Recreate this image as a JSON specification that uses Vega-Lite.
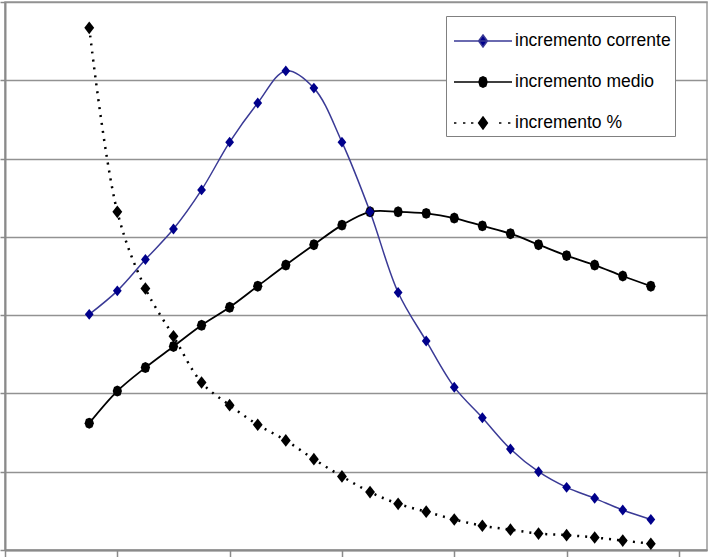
{
  "$schema": "https://vega.github.io/schema/vega-lite/v6.json",
  "width": 702,
  "height": 548,
  "autosize": "none",
  "padding": {"left": 5, "top": 2, "right": 2, "bottom": 7},
  "background": "white",
  "data": {
    "values": [
      {"i": 1, "serie": "incremento corrente", "v": 30.1},
      {"i": 2, "serie": "incremento corrente", "v": 33.1},
      {"i": 3, "serie": "incremento corrente", "v": 37.1},
      {"i": 4, "serie": "incremento corrente", "v": 41.0},
      {"i": 5, "serie": "incremento corrente", "v": 46.0},
      {"i": 6, "serie": "incremento corrente", "v": 52.1},
      {"i": 7, "serie": "incremento corrente", "v": 57.1},
      {"i": 8, "serie": "incremento corrente", "v": 61.2},
      {"i": 9, "serie": "incremento corrente", "v": 59.0},
      {"i": 10, "serie": "incremento corrente", "v": 52.1},
      {"i": 11, "serie": "incremento corrente", "v": 43.2},
      {"i": 12, "serie": "incremento corrente", "v": 32.9},
      {"i": 13, "serie": "incremento corrente", "v": 26.7},
      {"i": 14, "serie": "incremento corrente", "v": 20.8},
      {"i": 15, "serie": "incremento corrente", "v": 16.9},
      {"i": 16, "serie": "incremento corrente", "v": 12.9},
      {"i": 17, "serie": "incremento corrente", "v": 10.0},
      {"i": 18, "serie": "incremento corrente", "v": 8.0},
      {"i": 19, "serie": "incremento corrente", "v": 6.6},
      {"i": 20, "serie": "incremento corrente", "v": 5.1},
      {"i": 21, "serie": "incremento corrente", "v": 3.9},
      {"i": 1, "serie": "incremento medio", "v": 16.2},
      {"i": 2, "serie": "incremento medio", "v": 20.3},
      {"i": 3, "serie": "incremento medio", "v": 23.3},
      {"i": 4, "serie": "incremento medio", "v": 26.0},
      {"i": 5, "serie": "incremento medio", "v": 28.7},
      {"i": 6, "serie": "incremento medio", "v": 31.0},
      {"i": 7, "serie": "incremento medio", "v": 33.7},
      {"i": 8, "serie": "incremento medio", "v": 36.4},
      {"i": 9, "serie": "incremento medio", "v": 39.0},
      {"i": 10, "serie": "incremento medio", "v": 41.5},
      {"i": 11, "serie": "incremento medio", "v": 43.2},
      {"i": 12, "serie": "incremento medio", "v": 43.2},
      {"i": 13, "serie": "incremento medio", "v": 43.0},
      {"i": 14, "serie": "incremento medio", "v": 42.4},
      {"i": 15, "serie": "incremento medio", "v": 41.4},
      {"i": 16, "serie": "incremento medio", "v": 40.4},
      {"i": 17, "serie": "incremento medio", "v": 39.0},
      {"i": 18, "serie": "incremento medio", "v": 37.6},
      {"i": 19, "serie": "incremento medio", "v": 36.4},
      {"i": 20, "serie": "incremento medio", "v": 35.0},
      {"i": 21, "serie": "incremento medio", "v": 33.7},
      {"i": 1, "serie": "incremento %", "v": 66.7},
      {"i": 2, "serie": "incremento %", "v": 43.2},
      {"i": 3, "serie": "incremento %", "v": 33.4},
      {"i": 4, "serie": "incremento %", "v": 27.3},
      {"i": 5, "serie": "incremento %", "v": 21.4},
      {"i": 6, "serie": "incremento %", "v": 18.5},
      {"i": 7, "serie": "incremento %", "v": 16.0},
      {"i": 8, "serie": "incremento %", "v": 14.0},
      {"i": 9, "serie": "incremento %", "v": 11.6},
      {"i": 10, "serie": "incremento %", "v": 9.4},
      {"i": 11, "serie": "incremento %", "v": 7.4},
      {"i": 12, "serie": "incremento %", "v": 5.9},
      {"i": 13, "serie": "incremento %", "v": 4.9},
      {"i": 14, "serie": "incremento %", "v": 3.9},
      {"i": 15, "serie": "incremento %", "v": 3.1},
      {"i": 16, "serie": "incremento %", "v": 2.6},
      {"i": 17, "serie": "incremento %", "v": 2.1},
      {"i": 18, "serie": "incremento %", "v": 1.9},
      {"i": 19, "serie": "incremento %", "v": 1.6},
      {"i": 20, "serie": "incremento %", "v": 1.2},
      {"i": 21, "serie": "incremento %", "v": 0.8}
    ]
  },
  "encoding": {
    "x": {
      "field": "i",
      "type": "quantitative",
      "scale": {"domain": [-2, 23], "nice": false, "zero": false},
      "axis": {
        "values": [-2, 2, 6, 10, 14, 18, 22],
        "labels": false,
        "title": null,
        "grid": false,
        "ticks": true,
        "tickSize": 7,
        "tickColor": "#8a8a8a",
        "tickWidth": 1.5,
        "domainColor": "#8a8a8a",
        "domainWidth": 2
      }
    },
    "y": {
      "field": "v",
      "type": "quantitative",
      "scale": {"domain": [0, 70], "nice": false},
      "axis": {
        "values": [0, 10, 20, 30, 40, 50, 60, 70],
        "labels": false,
        "title": null,
        "grid": true,
        "gridColor": "#929292",
        "gridWidth": 1.6,
        "ticks": true,
        "tickSize": 5,
        "tickColor": "#8a8a8a",
        "tickWidth": 1.5,
        "domainColor": "#8a8a8a",
        "domainWidth": 2
      }
    }
  },
  "layer": [
    {
      "transform": [{"filter": "datum.serie == 'incremento medio'"}],
      "mark": {"type": "line", "interpolate": "catmull-rom", "color": "#000000", "strokeWidth": 1.8}
    },
    {
      "transform": [{"filter": "datum.serie == 'incremento %'"}],
      "mark": {"type": "line", "interpolate": "catmull-rom", "color": "#000000", "strokeWidth": 2.5, "strokeDash": [2, 6]}
    },
    {
      "transform": [{"filter": "datum.serie == 'incremento corrente'"}],
      "mark": {"type": "line", "interpolate": "catmull-rom", "color": "#3a3a96", "strokeWidth": 1.5}
    },
    {
      "transform": [{"filter": "datum.serie == 'incremento medio'"}],
      "mark": {"type": "point", "shape": "M-0.85,0L-0.6,-0.75L0,-1L0.6,-0.75L0.85,0L0.6,0.75L0,1L-0.6,0.75Z", "filled": true, "opacity": 1, "color": "#000000", "size": 120}
    },
    {
      "transform": [{"filter": "datum.serie == 'incremento %'"}],
      "mark": {"type": "point", "shape": "M0,-1L0.78,0L0,1L-0.78,0Z", "filled": true, "opacity": 1, "color": "#000000", "size": 160}
    },
    {
      "transform": [{"filter": "datum.serie == 'incremento corrente'"}],
      "mark": {"type": "point", "shape": "M0,-1L0.8,0L0,1L-0.8,0Z", "filled": true, "opacity": 1, "color": "#00008b", "size": 120}
    },
    {
      "transform": [{"filter": "false"}],
      "mark": {"type": "point", "filled": true, "opacity": 1},
      "encoding": {
        "fill": {
          "field": "serie",
          "type": "nominal",
          "scale": {
            "domain": ["incremento corrente", "incremento medio", "incremento %"],
            "range": ["#00008b", "#000000", "#000000"]
          },
          "legend": {
            "orient": "none",
            "legendX": 441,
            "legendY": 14,
            "title": null,
            "padding": 4,
            "symbolSize": 1600,
            "symbolOffset": 12,
            "labelOffset": 11,
            "labelFont": "Liberation Sans, Arial, sans-serif",
            "labelFontSize": 17.5,
            "labelColor": "#000000",
            "labelLimit": 400,
            "strokeColor": "#808080",
            "fillColor": "#ffffff",
            "rowPadding": 11,
            "symbolStrokeWidth": 1.5,
            "symbolOpacity": 1
          }
        },
        "stroke": {
          "field": "serie",
          "type": "nominal",
          "scale": {
            "domain": ["incremento corrente", "incremento medio", "incremento %"],
            "range": ["#3a3a96", "#000000", "#000000"]
          }
        },
        "shape": {
          "field": "serie",
          "type": "nominal",
          "scale": {
            "domain": ["incremento corrente", "incremento medio", "incremento %"],
            "range": [
              "M-1.45,0L1.45,0M0,-0.3L0.22,0L0,0.3L-0.22,0Z",
              "M-1.45,0L1.45,0M-0.2,0L-0.14,-0.2L0,-0.26L0.14,-0.2L0.2,0L0.14,0.2L0,0.26L-0.14,0.2Z",
              "M-1.45,0L-1.33,0M-1.0,0L-0.88,0M-0.6,0L-0.48,0M0.8,0L0.92,0M1.25,0L1.37,0M0,-0.3L0.22,0L0,0.3L-0.22,0Z"
            ]
          }
        }
      }
    }
  ],
  "config": {
    "view": {"stroke": "#9a9a9a", "strokeWidth": 1.5}
  }
}
